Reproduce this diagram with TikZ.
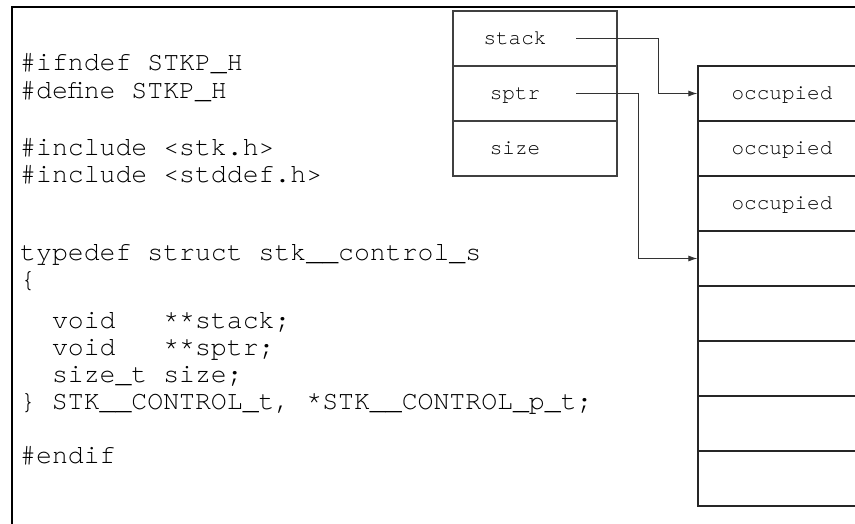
\documentclass[tikz,border=0pt]{standalone}
\usepackage{fontspec}
\newfontfamily\codefont{TeX Gyre Cursor}
\usetikzlibrary{arrows.meta}
\begin{document}
\begin{tikzpicture}[x=1pt,y=-1pt,
  code/.style={anchor=base west, inner sep=0pt, font=\codefont\fontsize{26.5}{30}\selectfont},
  lbl/.style={inner sep=0pt, font=\codefont\fontsize{21}{24}\selectfont, text height=14.7pt, text depth=3.15pt},
  field/.style={draw=black!75, line width=1.1pt, minimum width=164pt, minimum height=55pt, inner sep=0pt},
  cell/.style={draw=black!85, line width=1.3pt, minimum width=168pt, minimum height=55pt, inner sep=0pt,
    font=\codefont\fontsize{21}{24}\selectfont, text height=14.7pt, text depth=3.15pt},
  conn/.style={draw=black!80, line width=0.9pt, -{Latex[length=9pt,width=6pt]}},
  frame/.style={line width=2pt, draw=black}
]
\useasboundingbox (0,0) rectangle (855,523);
\clip (0,0) rectangle (855,523);
\fill[white] (0,0) rectangle (855,523);
\draw[frame] (12,540) -- (12,7) -- (870,7);

% code
\node[code] (c1)  at (20,70)  {\#ifndef STKP\_H};
\node[code] (c2)  at (20,98)  {\#define STKP\_H};
\node[code] (c3)  at (20,155) {\#include <stk.h>};
\node[code] (c4)  at (20,182) {\#include <stddef.h>};
\node[code] (c5)  at (20,260) {typedef struct stk\_\_control\_s};
\node[code] (c6)  at (20,287) {\{};
\node[code] (c7)  at (20,328) {\ \ void\ \ \ **stack;};
\node[code] (c8)  at (20,355) {\ \ void\ \ \ **sptr;};
\node[code] (c9)  at (20,382) {\ \ size\_t size;};
\node[code] (c10) at (20,409) {\} STK\_\_CONTROL\_t, *STK\_\_CONTROL\_p\_t;};
\node[code] (c11) at (20,463) {\#endif};

% struct
\node[field] (f1) at (535,38.5)  {};
\node[field] (f2) at (535,93.5)  {};
\node[field] (f3) at (535,148.5) {};
\node[lbl] (l1) at (515,38.5)  {stack};
\node[lbl] (l2) at (515,93.5)  {sptr};
\node[lbl] (l3) at (515,148.5) {size};

% array
\node[cell] (a1) at (782,93.5)  {occupied};
\node[cell] (a2) at (782,148.5) {occupied};
\node[cell] (a3) at (782,203.5) {occupied};
\node[cell] (a4) at (782,258.5) {};
\node[cell] (a5) at (782,313.5) {};
\node[cell] (a6) at (782,368.5) {};
\node[cell] (a7) at (782,423.5) {};
\node[cell] (a8) at (782,478.5) {};

% connectors
\coordinate (p1) at (576,38.5);
\coordinate (p2) at (576,93.5);
\draw[conn] (p1) -- ++(82,0) |- (a1.west);
\draw[conn] (p2) -- ++(62,0) |- (a4.west);
\end{tikzpicture}
\end{document}
